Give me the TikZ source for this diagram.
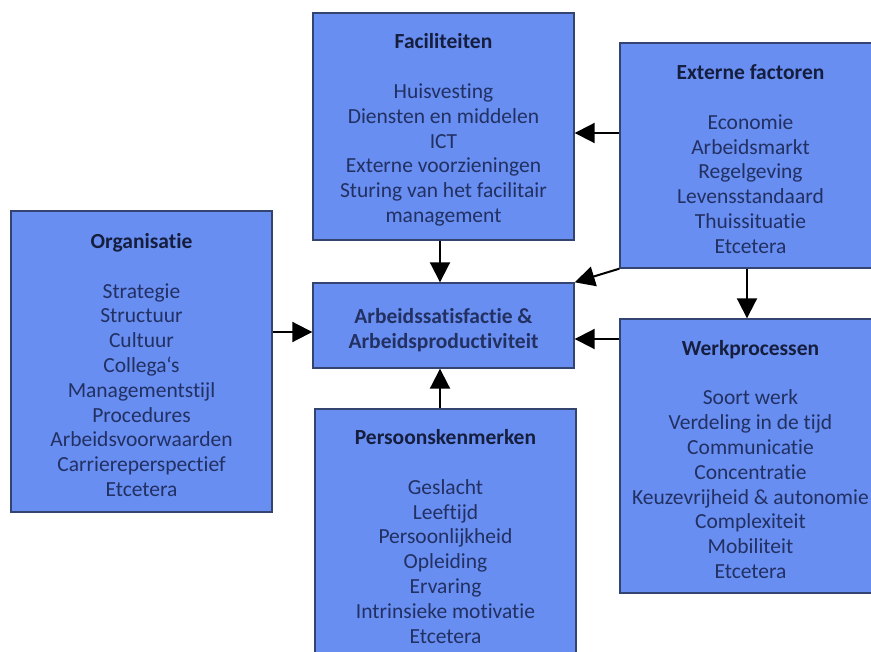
\documentclass[tikz,border=0pt]{standalone}
\usepackage{fontspec}
\setmainfont{Carlito}[Ligatures=NoCommon]
\usetikzlibrary{arrows.meta}
\definecolor{boxfill}{RGB}{104,142,242}
\definecolor{boxline}{RGB}{52,68,112}
\definecolor{boxtext}{RGB}{34,48,98}
\definecolor{boxtitle}{RGB}{22,30,62}
% heading line of a factor box (the strut lowers the text block slightly)
\newcommand{\boxhead}[1]{\rule{0pt}{22pt}\textcolor{boxtitle}{\bfseries #1}\\[24.8pt]}
\begin{document}
\begin{tikzpicture}[x=1pt,y=-1pt,
  factor/.style={draw=boxline, line width=1.4pt, fill=boxfill, text=boxtext,
    align=center, inner sep=0pt, minimum width=261pt,
    font=\fontsize{21.5}{24.8}\selectfont},
  arr/.style={line width=2pt, -{Triangle[length=20pt,width=20pt]}}]
  \useasboundingbox (0,0) rectangle (871,652);
  \fill[white] (0,0) rectangle (871,652);
  \begin{scope}
    \clip (0,0) rectangle (871,652);
    % central outcome box
    \node[factor, minimum height=85pt] (arb) at (443.5,325.5)
      {\rule{0pt}{24pt}\bfseries Arbeidssatisfactie \&\\\bfseries Arbeidsproductiviteit};
    % influencing factors
    \node[factor, minimum height=227pt] (fac) at (443.5,126.5)
      {\boxhead{Faciliteiten}
       Huisvesting\\Diensten en middelen\\ICT\\Externe voorzieningen\\
       Sturing van het facilitair\\management};
    \node[factor, minimum height=225pt] (ext) at (750.5,155.5)
      {\boxhead{Externe factoren}
       Economie\\Arbeidsmarkt\\Regelgeving\\Levensstandaard\\Thuissituatie\\Etcetera};
    \node[factor, minimum height=301pt] (org) at (141.5,361.5)
      {\boxhead{Organisatie}
       Strategie\\Structuur\\Cultuur\\Collega\symbol{96}s\\Managementstijl\\Procedures\\
       Arbeidsvoorwaarden\\Carriereperspectief\\Etcetera};
    \node[factor, minimum height=274pt] (werk) at (750.5,456)
      {\boxhead{Werkprocessen}
       Soort werk\\Verdeling in de tijd\\Communicatie\\Concentratie\\
       Keuzevrijheid \& autonomie\\Complexiteit\\Mobiliteit\\Etcetera};
    \node[factor, minimum height=248pt] (pers) at (445.5,533)
      {\boxhead{Persoonskenmerken}
       Geslacht\\Leeftijd\\Persoonlijkheid\\Opleiding\\Ervaring\\
       Intrinsieke motivatie\\Etcetera};
  \end{scope}
  % influence arrows
  \draw[arr] ([yshift=22.5pt]ext.west) -- ([yshift=-6.5pt]fac.east);
  \draw[arr] (ext.south west) -- (arb.north east);
  \draw[arr] ([xshift=-3.5pt]ext.south) -- ([xshift=-3.5pt]werk.north);
  \draw[arr] ([xshift=-3.5pt]fac.south) -- ([xshift=-3.5pt]arb.north);
  \draw[arr] ([yshift=29.5pt]org.east) -- ([yshift=-6.5pt]arb.east -| arb.west);
  \draw[arr] ([yshift=117pt]werk.west) -- ([yshift=-13.5pt]arb.east);
  \draw[arr] ([xshift=-5.5pt]pers.north) -- ([xshift=-3.5pt]arb.south);
\end{tikzpicture}
\end{document}
